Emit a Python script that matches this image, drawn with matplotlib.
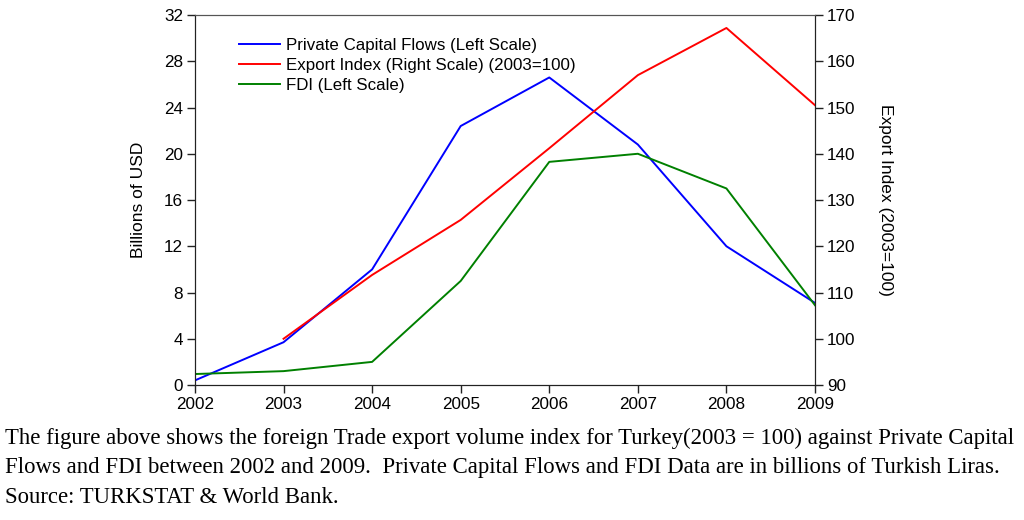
import matplotlib.pyplot as plt

years = [2002, 2003, 2004, 2005, 2006, 2007, 2008, 2009]
private_flows = [0.4, 3.7, 10.0, 22.4, 26.6, 20.8, 12.0, 7.1]
fdi = [0.95, 1.2, 2.0, 9.0, 19.3, 20.0, 17.0, 6.9]
export_years = [2003, 2004, 2005, 2006, 2007, 2008, 2009]
export_index = [100.0, 113.8, 125.7, 141.2, 157.0, 167.2, 150.5]

plt.rcParams['font.family'] = ['Liberation Sans', 'DejaVu Sans']

fig = plt.figure(figsize=(10.24, 5.2), dpi=100)
ax = fig.add_axes([0.1904, 0.2596, 0.6055, 0.7115])
ax2 = ax.twinx()

l1, = ax.plot(years, private_flows, color='#0000ff', linewidth=1.4,
              label='Private Capital Flows (Left Scale)')
l2, = ax2.plot(export_years, export_index, color='#ff0000', linewidth=1.4,
               label='Export Index (Right Scale) (2003=100)')
l3, = ax.plot(years, fdi, color='#008000', linewidth=1.4,
              label='FDI (Left Scale)')

ax.set_xlim(2002, 2009)
ax.set_ylim(0, 32)
ax.set_yticks(range(0, 33, 4))
ax.set_xticks(years)
ax2.set_ylim(90, 170)
ax2.set_yticks(range(90, 171, 10))

for a in (ax, ax2):
    a.tick_params(labelsize=12.3, length=5.5, width=1, color='#222222', pad=3)
    for s in a.spines.values():
        s.set_color('#222222')
    a.spines['top'].set_color('#555555')

ax.set_ylabel('Billions of USD', fontsize=12.5, labelpad=13)
ax2.set_ylabel('Export Index (2003=100)', fontsize=12.5, rotation=270, labelpad=27)

ax.legend(handles=[l1, l2, l3], loc='upper left', bbox_to_anchor=(0.055, 0.965),
          frameon=False, fontsize=12.2, handlelength=2.4, handletextpad=0.35,
          labelspacing=0.3, borderaxespad=0.2)

caption = ("The figure above shows the foreign Trade export volume index for Turkey(2003 = 100) against Private Capital\n"
           "Flows and FDI between 2002 and 2009.  Private Capital Flows and FDI Data are in billions of Turkish Liras.\n"
           "Source: TURKSTAT & World Bank.")
fig.text(0.005, 0.178, caption, family='Liberation Serif', fontsize=16.4,
         va='top', ha='left', linespacing=1.55)

fig.savefig('out.png', dpi=100)
